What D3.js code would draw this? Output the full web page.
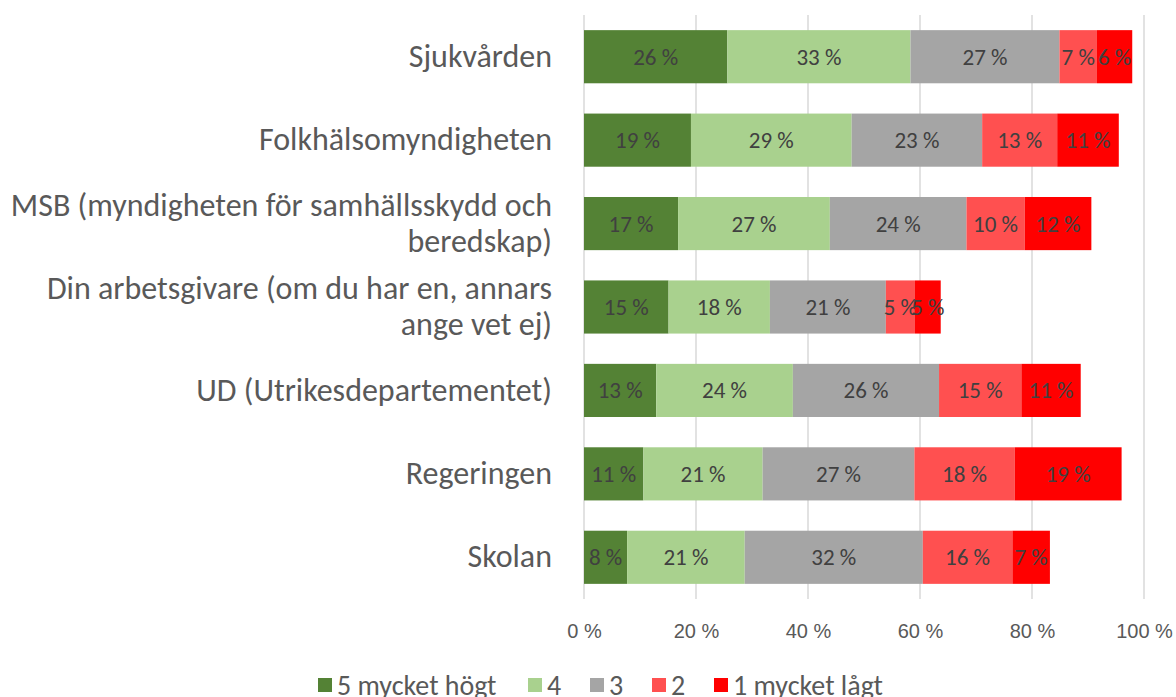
<!DOCTYPE html>
<html>
<head>
<meta charset="utf-8">
<script src="https://cdn.jsdelivr.net/npm/d3@7"></script>
<style>
  body { margin: 0; background: #fff; }
  svg { font-family: Calibri, Carlito, Lato, sans-serif; }
</style>
</head>
<body>
<div id="chart"></div>
<script>
const categories = [
  "Sjukvården",
  "Folkhälsomyndigheten",
  "MSB (myndigheten för samhällsskydd och beredskap)",
  "Din arbetsgivare (om du har en, annars ange vet ej)",
  "UD (Utrikesdepartementet)",
  "Regeringen",
  "Skolan"
];
const seriesNames = ["5 mycket högt", "4", "3", "2", "1 mycket lågt"];
const seriesColors = ["#548235", "#A9D18E", "#A5A5A5", "#FF5050", "#FF0000"];

// percent per category, one array per answer level
const high5 = [25.6, 19.1, 16.8, 15.1, 12.9, 10.6, 7.7];
const level4 = [32.7, 28.7, 27.1, 18.1, 24.4, 21.3, 21.0];
const level3 = [26.6, 23.3, 24.4, 20.7, 26.1, 27.1, 31.8];
const level2 = [6.7, 13.4, 10.4, 5.2, 14.7, 17.9, 16.0];
const low1 = [6.3, 11.0, 11.9, 4.6, 10.6, 19.1, 6.7];

const xTicks = [0, 20, 40, 60, 80, 100];

const width = 1176;
const height = 697;

const rows = categories.map((c, i) => ({
  cat: c,
  s0: high5[i], s1: level4[i], s2: level3[i], s3: level2[i], s4: low1[i]
}));
const keys = ["s0", "s1", "s2", "s3", "s4"];

const svg = d3.select("#chart").append("svg")
  .attr("width", width)
  .attr("height", height);

const x = d3.scaleLinear().domain([0, 100]).range([584, 1144]);
const y = d3.scaleBand().domain(categories).range([15, 599])
  .paddingInner(0.363).paddingOuter(0.1815);

// gridlines
svg.append("g").selectAll("line")
  .data(xTicks)
  .enter().append("line")
  .attr("x1", d => x(d)).attr("x2", d => x(d))
  .attr("y1", 15).attr("y2", 599)
  .attr("stroke", "#D9D9D9")
  .attr("stroke-width", 1.5);

const stack = d3.stack().keys(keys)(rows);

const layers = svg.append("g").selectAll("g")
  .data(stack)
  .enter().append("g")
  .attr("fill", (d, i) => seriesColors[i]);

layers.selectAll("rect")
  .data(d => d)
  .enter().append("rect")
  .attr("x", d => x(d[0]))
  .attr("y", d => y(d.data.cat))
  .attr("width", d => x(d[1]) - x(d[0]))
  .attr("height", y.bandwidth());

// value labels
layers.selectAll("text")
  .data(d => d)
  .enter().append("text")
  .attr("x", d => (x(d[0]) + x(d[1])) / 2)
  .attr("y", d => y(d.data.cat) + y.bandwidth() / 2)
  .attr("dy", "0.35em")
  .attr("text-anchor", "middle")
  .attr("fill", "#404040")
  .style("font-size", "23px")
  .text(d => Math.round(d[1] - d[0]) + " %");

// x axis labels
const xAxis = d3.axisBottom(x).tickValues(xTicks).tickSize(0).tickPadding(0)
  .tickFormat(d => d + " %");
const xg = svg.append("g")
  .attr("transform", "translate(0,624)")
  .call(xAxis);
xg.select(".domain").remove();
xg.selectAll("text")
  .attr("fill", "#595959")
  .style("font-size", "20px")
  .style("font-family", null);

// category labels, wrapped
const catFont = 32;
const lineH = 36;
const catG = svg.append("g");
categories.forEach(c => {
  const t = catG.append("text")
    .attr("text-anchor", "end")
    .attr("fill", "#595959")
    .style("font-size", catFont + "px");
  const words = c.split(" ");
  const lines = [];
  let cur = [];
  const probe = catG.append("text").style("font-size", catFont + "px");
  words.forEach(w => {
    cur.push(w);
    probe.text(cur.join(" "));
    if (probe.node().getComputedTextLength() > 548 && cur.length > 1) {
      cur.pop();
      lines.push(cur.join(" "));
      cur = [w];
    }
  });
  lines.push(cur.join(" "));
  probe.remove();
  const cy = y(c) + y.bandwidth() / 2 - 1;
  lines.forEach((ln, j) => {
    t.append("tspan")
      .attr("x", 552)
      .attr("y", cy + (j - (lines.length - 1) / 2) * lineH)
      .attr("dy", "0.35em")
      .text(ln);
  });
});

// legend
const legend = svg.append("g").attr("transform", "translate(0,685)");
const legendX = [318, 528, 590, 652, 714];
seriesNames.forEach((name, i) => {
  const item = legend.append("g").attr("transform", `translate(${legendX[i]},0)`);
  item.append("rect")
    .attr("x", 0).attr("y", -7)
    .attr("width", 14).attr("height", 14)
    .attr("fill", seriesColors[i]);
  item.append("text")
    .attr("x", 19)
    .attr("dy", "0.35em")
    .attr("fill", "#595959")
    .style("font-size", "28px")
    .text(name);
});
</script>
</body>
</html>
